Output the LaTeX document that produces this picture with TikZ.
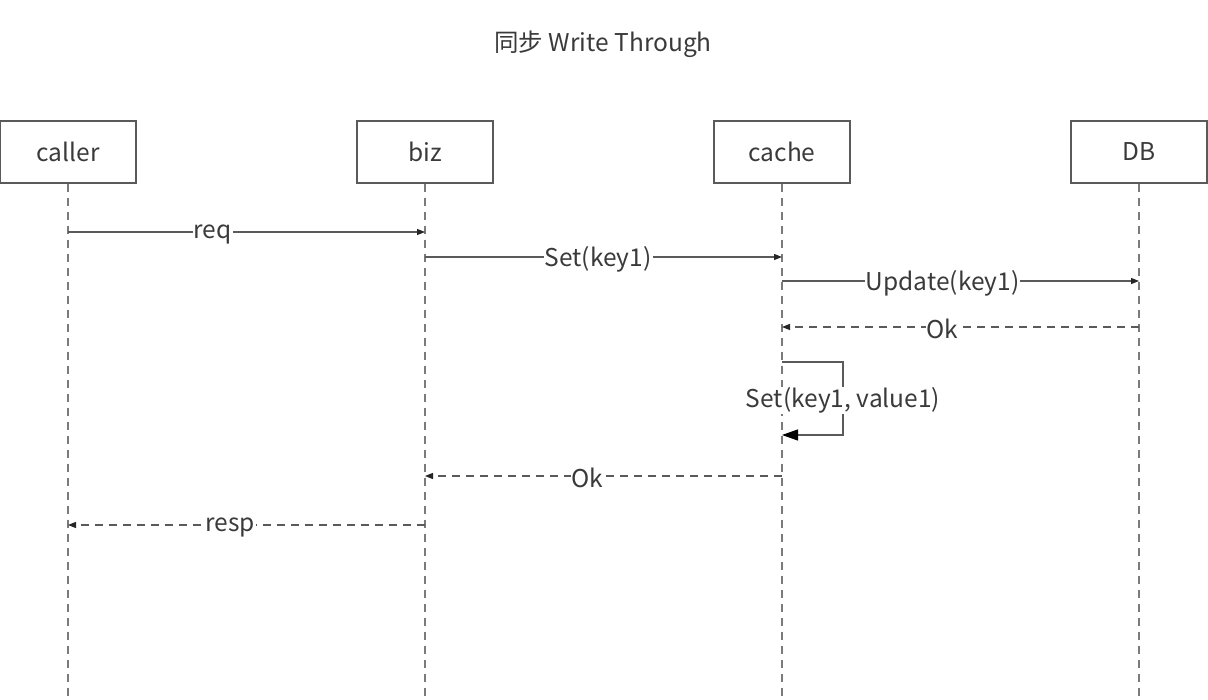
\documentclass[tikz,border=0pt]{standalone}
\usepackage{fontspec}
\setmainfont{Noto Sans CJK SC}
\usetikzlibrary{arrows.meta,positioning}

\definecolor{linegray}{HTML}{5A5A5A}
\definecolor{textgray}{HTML}{3A3A3A}

\begin{document}
\begin{tikzpicture}[x=1pt,y=-1pt,font=\fontsize{24.5}{28}\selectfont,text=textgray,
  actor/.style={draw=linegray,line width=1.2pt,minimum width=136pt,minimum height=62pt,inner sep=0pt},
  life/.style={draw=linegray!80,line width=1.2pt,dash pattern=on 8pt off 6pt},
  msg/.style={draw=linegray,line width=1.2pt,-{Triangle[length=8pt,width=6pt,color=black!85]}},
  reply/.style={msg,dash pattern=on 8pt off 6pt},
  lbl/.style={fill=white,inner sep=1pt,yshift=-2pt}]
 \useasboundingbox (0,0) rectangle (1208,700);
 \node (title) at (603,44) {同步 Write Through};
 % actors
 \node [actor] (caller) at (68,152) {caller};
 \node [actor] (biz) at (425,152) {biz};
 \node [actor] (cache) at (782,152) {cache};
 \node [actor] (db) at (1139,152) {DB};
 \foreach \a in {caller,biz,cache,db}
  \coordinate (\a end) at (\a.south |- 0,700);
 % lifelines
 \foreach \a in {caller,biz,cache,db}
  \draw [life] (\a.south) -- (\a end);
 % message points
 \coordinate (m1a) at (caller.south |- 0,232);
 \coordinate (m1b) at (biz.south |- 0,232);
 \coordinate (m2a) at (biz.south |- 0,257);
 \coordinate (m2b) at (cache.south |- 0,257);
 \coordinate (m3a) at (cache.south |- 0,281);
 \coordinate (m3b) at (db.south |- 0,281);
 \coordinate (m4a) at (db.south |- 0,327);
 \coordinate (m4b) at (cache.south |- 0,327);
 \coordinate (s1) at (cache.south |- 0,362);
 \coordinate (s2) at (cache.south |- 0,435);
 \coordinate (m6a) at (cache.south |- 0,476);
 \coordinate (m6b) at (biz.south |- 0,476);
 \coordinate (m7a) at (biz.south |- 0,525);
 \coordinate (m7b) at (caller.south |- 0,525);
 % messages
 \draw [msg] (m1a) -- node [lbl,pos=0.405] {req} (m1b);
 \draw [msg] (m2a) -- node [lbl,pos=0.485] {Set(key1)} (m2b);
 \draw [msg] (m3a) -- node [lbl,pos=0.45] {Update(key1)} (m3b);
 \draw [reply] (m4a) -- node [lbl,pos=0.55] {Ok} (m4b);
 \draw [draw=linegray,line width=1.2pt,-{Triangle[length=16pt,width=11pt,color=black]}]
  (s1) -- ++(61,0) -- node [lbl] {Set(key1, value1)} ++(0,73) -- (s2);
 \draw [reply] (m6a) -- node [lbl,pos=0.545] {Ok} (m6b);
 \draw [reply] (m7a) -- node [lbl,pos=0.545] {resp} (m7b);
\end{tikzpicture}
\end{document}
